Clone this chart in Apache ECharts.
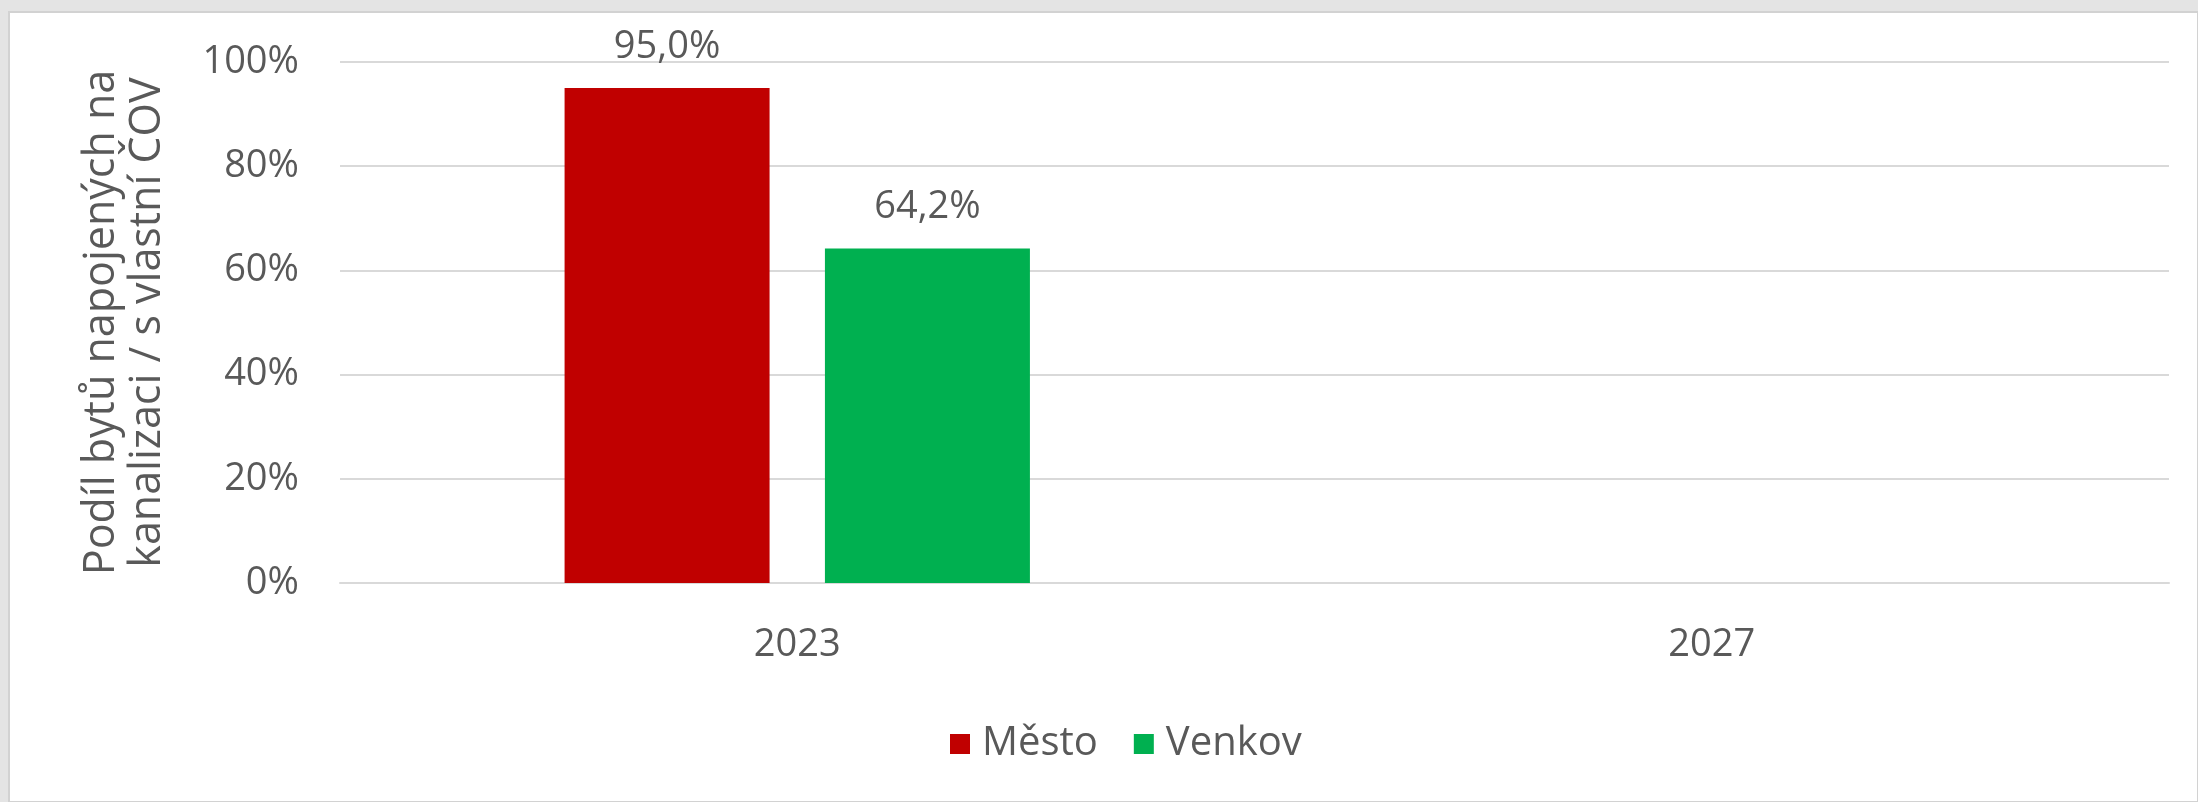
<!DOCTYPE html>
<html>
<head>
<meta charset="utf-8">
<script src="https://cdn.jsdelivr.net/npm/echarts@6/dist/echarts.min.js"></script>
<style>
  html, body { margin: 0; padding: 0; background: #e4e4e4; }
  #chart { width: 2198px; height: 802px; }
</style>
</head>
<body>
<div id="chart"></div>
<script>
// kategorie a hodnoty (v %)
const years = ['2023', '2027'];
const mesto = [95.0, null];
const venkov = [64.2, null];
const seriesNames = ['Město', 'Venkov'];
const yTicks = [0, 20, 40, 60, 80, 100];

const textColor = '#595959';
const font = '"Open Sans", "Liberation Sans", sans-serif';

const chart = echarts.init(document.getElementById('chart'));

function fmt(v) {
  return v.toFixed(1).replace('.', ',') + '%';
}

const option = {
  backgroundColor: '#e4e4e4',
  color: ['#c00000', '#00b050'],
  textStyle: { fontFamily: font },
  graphic: [{
    type: 'rect',
    z: -10,
    shape: { x: 9, y: 12, width: 2189, height: 790 },
    style: { fill: '#ffffff', stroke: '#d2d2d2', lineWidth: 2 }
  }],
  legend: {
    left: 945,
    top: 719,
    icon: 'rect',
    itemWidth: 20,
    itemHeight: 20,
    itemGap: 36,
    textStyle: { color: textColor, fontSize: 40, fontFamily: font, padding: [0, 0, 0, 7] },
    data: seriesNames
  },
  grid: {
    left: 340,
    right: 29,
    top: 62,
    bottom: 219
  },
  xAxis: {
    type: 'category',
    data: years,
    axisTick: { show: false },
    axisLine: { lineStyle: { color: '#d9d9d9', width: 2 } },
    axisLabel: { color: textColor, fontSize: 38, margin: 43, fontFamily: font }
  },
  yAxis: {
    type: 'value',
    min: yTicks[0],
    max: yTicks[yTicks.length - 1],
    interval: 20,
    name: 'Podíl bytů napojených na\nkanalizaci / s vlastní ČOV',
    nameLocation: 'middle',
    nameRotate: 90,
    nameGap: 169,
    nameTextStyle: { color: textColor, fontSize: 43, lineHeight: 46, fontFamily: font },
    axisLine: { show: false },
    axisTick: { show: false },
    splitLine: { lineStyle: { color: '#d9d9d9', width: 2 } },
    axisLabel: {
      color: textColor,
      fontSize: 38,
      margin: 41,
      fontFamily: font,
      formatter: '{value}%'
    }
  },
  series: [
    {
      name: seriesNames[0],
      type: 'bar',
      data: mesto,
      barWidth: 205,
      barGap: '27%',
      label: {
        show: true,
        position: 'top',
        distance: 22,
        color: textColor,
        fontSize: 38,
        fontFamily: font,
        formatter: p => fmt(p.value)
      }
    },
    {
      name: seriesNames[1],
      type: 'bar',
      data: venkov,
      barWidth: 205,
      label: {
        show: true,
        position: 'top',
        distance: 22,
        color: textColor,
        fontSize: 38,
        fontFamily: font,
        formatter: p => fmt(p.value)
      }
    }
  ]
};

chart.setOption(option);
</script>
</body>
</html>
